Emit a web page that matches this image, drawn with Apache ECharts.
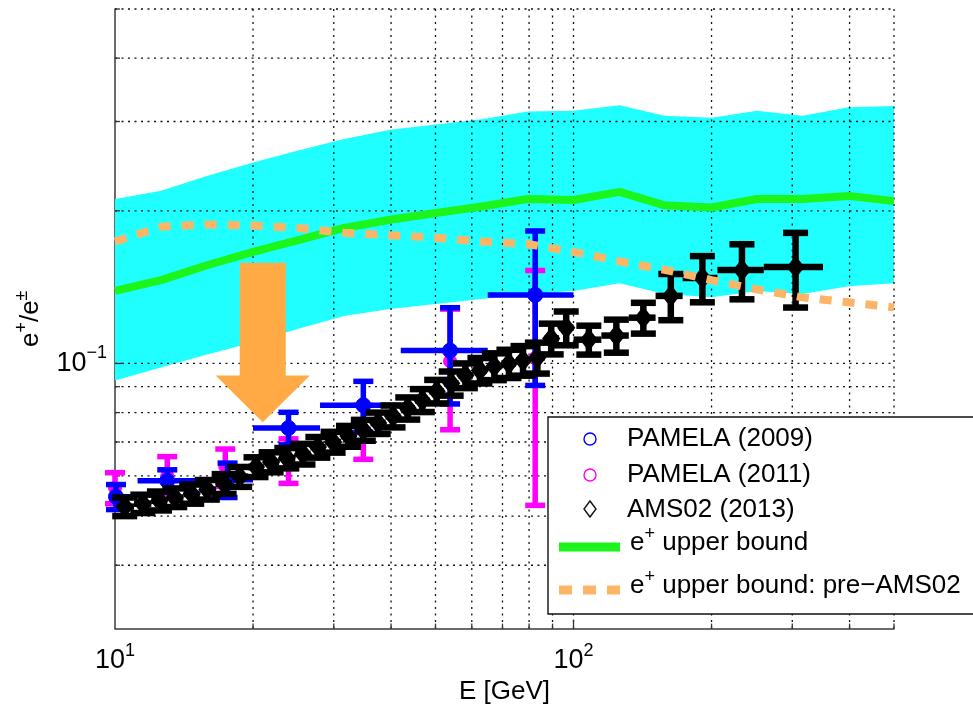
<!DOCTYPE html>
<html>
<head>
<meta charset="utf-8">
<script src="https://cdn.jsdelivr.net/npm/echarts@6/dist/echarts.min.js"></script>
<style>
  html, body { margin: 0; padding: 0; background: #fff; }
  #chart { width: 973px; height: 710px; }
</style>
</head>
<body>
<div id="chart"></div>
<script>
// ---- Model curves, sampled on a log-spaced energy grid (GeV) ----
const modelE = [10, 12.6, 15.8, 20, 25.1, 31.6, 39.8, 50.1, 63.1, 79.4, 100, 126, 158, 200, 251, 316, 398, 500];
const bandUpper = [0.211, 0.219, 0.234, 0.249, 0.263, 0.277, 0.289, 0.296, 0.303, 0.314, 0.315, 0.323, 0.308, 0.305, 0.315, 0.308, 0.320, 0.322];
const bandLower = [0.0926, 0.0982, 0.104, 0.110, 0.117, 0.124, 0.128, 0.131, 0.134, 0.137, 0.139, 0.144, 0.137, 0.135, 0.139, 0.137, 0.142, 0.144];
const upperBound = [0.139, 0.146, 0.156, 0.166, 0.175, 0.185, 0.192, 0.198, 0.204, 0.211, 0.210, 0.218, 0.205, 0.203, 0.211, 0.211, 0.214, 0.209];
const upperBoundPreAMS = [0.174, 0.186, 0.188, 0.187, 0.185, 0.181, 0.179, 0.177, 0.174, 0.172, 0.166, 0.159, 0.153, 0.146, 0.140, 0.135, 0.132, 0.129];

// ---- PAMELA (2009) ----
const pam09E   = [10.05, 13.0, 17.6, 23.9, 34.8, 53.8, 82.5];
const pam09Lo  = [9.1, 11.2, 15.0, 20.0, 28.0, 42.0, 65.0];
const pam09Hi  = [11.2, 15.0, 20.0, 28.0, 42.0, 65.0, 100];
const pam09Val = [0.0546, 0.0587, 0.0590, 0.0746, 0.0827, 0.106, 0.1365];
const pam09Err = [0.0031, 0.0030, 0.0046, 0.0055, 0.0095, 0.0228, 0.046];

// ---- PAMELA (2011) ----
const pam11E   = [10.0, 13.0, 17.4, 23.9, 34.8, 53.8, 82.5];
const pam11Val = [0.0569, 0.0600, 0.0625, 0.0645, 0.0737, 0.101, 0.1025];
const pam11Err = [0.0040, 0.0055, 0.0053, 0.0065, 0.0090, 0.027, 0.050];

// ---- AMS02 (2013) ----
const amsE   = [10.5, 11.5, 12.5, 13.5, 14.7, 15.9, 17.3, 18.7, 20.3, 21.9, 23.7, 25.7, 27.7, 29.9, 32.3, 34.8, 37.5, 40.4, 43.5, 46.8, 50.3, 54.1, 58.1, 62.5, 67.2, 72.3, 77.6, 83.4, 89.4, 96.4, 108, 124, 142, 163, 191, 233, 305];
const amsLo  = [10.1, 11.0, 12.0, 13.0, 14.1, 15.3, 16.6, 18.0, 19.5, 21.1, 22.8, 24.7, 26.7, 28.8, 31.1, 33.5, 36.1, 38.9, 41.9, 45.1, 48.5, 52.2, 56.1, 60.3, 64.8, 69.7, 74.9, 80.5, 86.5, 93.0, 100, 115, 132, 151, 173, 206, 260];
const amsHi  = [11.0, 12.0, 13.0, 14.1, 15.3, 16.6, 18.0, 19.5, 21.1, 22.8, 24.7, 26.7, 28.8, 31.1, 33.5, 36.1, 38.9, 41.9, 45.1, 48.5, 52.2, 56.1, 60.3, 64.8, 69.7, 74.9, 80.5, 86.5, 93.0, 100, 115, 132, 151, 173, 206, 260, 350];
const amsVal = [0.0522, 0.0529, 0.0536, 0.0544, 0.0553, 0.0564, 0.0579, 0.0598, 0.0625, 0.0639, 0.0651, 0.0663, 0.0684, 0.0700, 0.0719, 0.0739, 0.0763, 0.0787, 0.0816, 0.0846, 0.0881, 0.0914, 0.0947, 0.0969, 0.0987, 0.1000, 0.1014, 0.1027, 0.1120, 0.1176, 0.1114, 0.1135, 0.1231, 0.1359, 0.1474, 0.1528, 0.1549];
const amsErr = [0.0022, 0.0022, 0.0023, 0.0023, 0.0024, 0.0025, 0.0026, 0.0027, 0.0028, 0.0029, 0.0030, 0.0031, 0.0032, 0.0033, 0.0034, 0.0035, 0.0037, 0.0039, 0.0041, 0.0044, 0.0047, 0.0050, 0.0053, 0.0056, 0.0060, 0.0064, 0.0068, 0.0072, 0.0078, 0.0090, 0.0073, 0.0085, 0.0086, 0.0142, 0.0154, 0.0190, 0.0260];

// ---- Grid / tick positions ----
const xGridTicks = [20, 30, 40, 50, 60, 70, 80, 90, 100, 200, 300, 400, 500];
const yGridTicks = [0.04, 0.05, 0.06, 0.07, 0.08, 0.09, 0.1, 0.2, 0.3, 0.4, 0.5];

// Down-pointing annotation arrow, anchored in data space (E, top, neck, tip)
const arrowAnchor = { E: 21, top: 0.158, neck: 0.0947, tip: 0.0766 };

const FONT = '"Liberation Sans", Arial, Helvetica, sans-serif';
const TEXT = '#000000';
const CYAN = '#20ffff';
const GREEN = '#1cf51c';
const ORANGE = '#fcb566';
const BLUE = '#0000ff';
const MAGENTA = '#ff00ff';

function isPow10(v) {
  const l = Math.log10(v);
  return Math.abs(l - Math.round(l)) < 1e-6;
}
function powLabel(v) {
  if (!isPow10(v)) return '';
  const e = Math.round(Math.log10(v));
  return '{b|10}{s|' + (e < 0 ? '\u2212' + (-e) : e) + '}';
}
const labelRich = {
  b: { fontSize: 27, fontFamily: FONT, color: TEXT },
  s: { fontSize: 18, fontFamily: FONT, color: TEXT, padding: [0, 0, 20, 0] }
};
const supRich = {
  b: { fontSize: 26, fontFamily: FONT, color: TEXT },
  s: { fontSize: 18, fontFamily: FONT, color: TEXT, padding: [0, 0, 18, 0] }
};

// Error-bar series: stems, caps, optional horizontal bin bars and a marker
function errorBars(name, E, val, err, lo, hi, opt) {
  const data = E.map((e, i) => [e, val[i], val[i] - err[i], val[i] + err[i],
    lo ? lo[i] : e, hi ? hi[i] : e]);
  return {
    type: 'custom',
    name: name,
    coordinateSystem: 'cartesian2d',
    silent: true,
    data: data,
    encode: { x: 0, y: 1 },
    renderItem: function (params, api) {
      const cs = params.coordSys;
      const c = api.coord([api.value(0), api.value(1)]);
      const bot = api.coord([api.value(0), api.value(2)]);
      const top = api.coord([api.value(0), api.value(3)]);
      const l = api.coord([api.value(4), api.value(1)]);
      const r = api.coord([api.value(5), api.value(1)]);
      const lx = Math.max(l[0], cs.x);
      const rx = Math.min(r[0], cs.x + cs.width);
      const st = { stroke: opt.color, lineWidth: opt.lw, lineCap: 'butt' };
      const hw = opt.cap / 2;
      const children = [
        { type: 'line', shape: { x1: c[0], y1: top[1], x2: c[0], y2: bot[1] }, style: st },
        { type: 'line', shape: { x1: c[0] - hw, y1: top[1], x2: c[0] + hw, y2: top[1] }, style: st },
        { type: 'line', shape: { x1: c[0] - hw, y1: bot[1], x2: c[0] + hw, y2: bot[1] }, style: st }
      ];
      if (rx - lx > 1) {
        children.push({ type: 'line', shape: { x1: lx, y1: c[1], x2: rx, y2: c[1] }, style: st });
      }
      if (opt.marker === 'circle') {
        children.push({ type: 'circle', shape: { cx: c[0], cy: c[1], r: opt.size },
          style: { fill: opt.color, stroke: opt.color, lineWidth: 1 } });
      } else if (opt.marker === 'diamond') {
        const w = opt.size * 0.8, h = opt.size;
        children.push({ type: 'polygon',
          shape: { points: [[c[0], c[1] - h], [c[0] + w, c[1]], [c[0], c[1] + h], [c[0] - w, c[1]]] },
          style: { fill: opt.color, stroke: opt.color, lineWidth: 3 } });
      }
      return { type: 'group', children: children };
    }
  };
}

const chart = echarts.init(document.getElementById('chart'), null, { renderer: 'canvas' });

const option = {
  animation: false,
  backgroundColor: '#ffffff',
  grid: { left: 115, right: 79, top: 9, bottom: 78, containLabel: false },
  xAxis: {
    type: 'log', logBase: 10, min: 10, max: 500,
    axisLine: { show: true, lineStyle: { color: '#3a3a3a', width: 1.5 } },
    axisTick: { show: false },
    splitLine: { show: false },
    axisLabel: { formatter: powLabel, rich: labelRich, margin: 13 },
    name: 'E [GeV]', nameLocation: 'middle', nameGap: 45,
    nameTextStyle: { fontSize: 26, fontFamily: FONT, color: TEXT }
  },
  yAxis: {
    type: 'log', logBase: 10, min: 0.03, max: 0.5,
    axisLine: { show: true, lineStyle: { color: '#3a3a3a', width: 1.5 } },
    axisTick: { show: false },
    splitLine: { show: false },
    axisLabel: { formatter: powLabel, rich: labelRich, margin: 8 },
    name: '{b|e}{s|+}{b|/e}{s|\u00b1}', nameLocation: 'middle', nameGap: 66, nameRotate: 90,
    nameTextStyle: { rich: supRich }
  },
  series: [
    // shaded band between lower and upper model envelopes
    {
      type: 'custom', coordinateSystem: 'cartesian2d', silent: true,
      data: [[modelE[0], bandLower[0]]],
      renderItem: function (params, api) {
        const pts = [];
        for (let i = 0; i < modelE.length; i++) pts.push(api.coord([modelE[i], bandUpper[i]]));
        for (let i = modelE.length - 1; i >= 0; i--) pts.push(api.coord([modelE[i], bandLower[i]]));
        return { type: 'polygon', shape: { points: pts }, style: { fill: CYAN } };
      }
    },
    // dotted grid and inward ticks
    {
      type: 'custom', coordinateSystem: 'cartesian2d', silent: true,
      data: [[10, 0.1]],
      renderItem: function (params, api) {
        const cs = params.coordSys;
        const children = [];
        const dash = [2, 4.5];
        const bottom = cs.y + cs.height;
        xGridTicks.forEach(function (v) {
          const x = api.coord([v, 0.1])[0];
          children.push({ type: 'line', shape: { x1: x, y1: cs.y, x2: x, y2: bottom },
            style: { stroke: '#111', lineWidth: 1.3, lineDash: dash } });
          const len = isPow10(v) ? 9 : 5;
          children.push({ type: 'line', shape: { x1: x, y1: bottom, x2: x, y2: bottom - len },
            style: { stroke: '#333', lineWidth: 1.3 } });
        });
        yGridTicks.forEach(function (v) {
          const y = api.coord([10, v])[1];
          children.push({ type: 'line', shape: { x1: cs.x, y1: y, x2: cs.x + cs.width, y2: y },
            style: { stroke: '#111', lineWidth: 1.3, lineDash: dash } });
          const len = isPow10(v) ? 9 : 5;
          children.push({ type: 'line', shape: { x1: cs.x, y1: y, x2: cs.x + len, y2: y },
            style: { stroke: '#333', lineWidth: 1.3 } });
        });
        return { type: 'group', children: children };
      }
    },
    {
      type: 'line', name: 'e+ upper bound', silent: true, showSymbol: false,
      data: modelE.map((e, i) => [e, upperBound[i]]),
      lineStyle: { color: GREEN, width: 8, cap: 'butt', join: 'round' }
    },
    {
      type: 'line', name: 'e+ upper bound: pre-AMS02', silent: true, showSymbol: false,
      data: modelE.map((e, i) => [e, upperBoundPreAMS[i]]),
      lineStyle: { color: ORANGE, width: 8, type: [12, 11], cap: 'butt' }
    },
    errorBars('PAMELA (2011)', pam11E, pam11Val, pam11Err, null, null,
      { color: MAGENTA, lw: 5.5, cap: 20, marker: 'circle', size: 6.5 }),
    errorBars('PAMELA (2009)', pam09E, pam09Val, pam09Err, pam09Lo, pam09Hi,
      { color: BLUE, lw: 5.5, cap: 20, marker: 'circle', size: 7.5 }),
    errorBars('AMS02 (2013)', amsE, amsVal, amsErr, amsLo, amsHi,
      { color: '#000', lw: 6.5, cap: 25, marker: 'diamond', size: 9 }),
    // annotation arrow
    {
      type: 'custom', coordinateSystem: 'cartesian2d', silent: true,
      data: [[arrowAnchor.E, arrowAnchor.top, arrowAnchor.neck, arrowAnchor.tip]],
      renderItem: function (params, api) {
        const t = api.coord([api.value(0), api.value(1)]);
        const n = api.coord([api.value(0), api.value(2)]);
        const p = api.coord([api.value(0), api.value(3)]);
        const sw = 23, hw = 47;
        return {
          type: 'polygon',
          shape: { points: [[t[0] - sw, t[1]], [t[0] + sw, t[1]], [t[0] + sw, n[1]], [t[0] + hw, n[1]],
            [p[0], p[1]], [t[0] - hw, n[1]], [t[0] - sw, n[1]]] },
          style: { fill: '#ffaa44' }
        };
      }
    }
  ],
  graphic: {
    elements: [
      { type: 'rect', z: 100, silent: true, shape: { x: 548, y: 417, width: 440, height: 197 },
        style: { fill: '#fff', stroke: '#111', lineWidth: 1.4 } },
      { type: 'circle', z: 101, silent: true, shape: { cx: 590, cy: 439, r: 6 }, style: { fill: 'none', stroke: BLUE, lineWidth: 1.4 } },
      { type: 'circle', z: 101, silent: true, shape: { cx: 590, cy: 475, r: 6 }, style: { fill: 'none', stroke: MAGENTA, lineWidth: 1.4 } },
      { type: 'polygon', z: 101, silent: true, shape: { points: [[590, 501], [596, 509], [590, 517], [584, 509]] },
        style: { fill: 'none', stroke: '#111', lineWidth: 1.4 } },
      { type: 'line', z: 101, silent: true, shape: { x1: 559, y1: 547, x2: 620, y2: 547 }, style: { stroke: GREEN, lineWidth: 9 } },
      { type: 'line', z: 101, silent: true, shape: { x1: 559, y1: 590, x2: 620, y2: 590 },
        style: { stroke: ORANGE, lineWidth: 9, lineDash: [13, 11] } },
      { type: 'text', z: 101, silent: true, x: 627, y: 439, style: { text: 'PAMELA (2009)', font: '26px ' + FONT, fill: TEXT, verticalAlign: 'middle' } },
      { type: 'text', z: 101, silent: true, x: 627, y: 475, style: { text: 'PAMELA (2011)', font: '26px ' + FONT, fill: TEXT, verticalAlign: 'middle' } },
      { type: 'text', z: 101, silent: true, x: 627, y: 510, style: { text: 'AMS02 (2013)', font: '26px ' + FONT, fill: TEXT, verticalAlign: 'middle' } },
      { type: 'text', z: 101, silent: true, x: 630, y: 543, style: {
        text: '{b|e}{s|+}{b| upper bound}', verticalAlign: 'middle', fill: TEXT, rich: supRich } },
      { type: 'text', z: 101, silent: true, x: 630, y: 586, style: {
        text: '{b|e}{s|+}{b| upper bound: pre\u2212AMS02}', verticalAlign: 'middle', fill: TEXT, rich: supRich } }
    ]
  }
};

chart.setOption(option);
</script>
</body>
</html>
